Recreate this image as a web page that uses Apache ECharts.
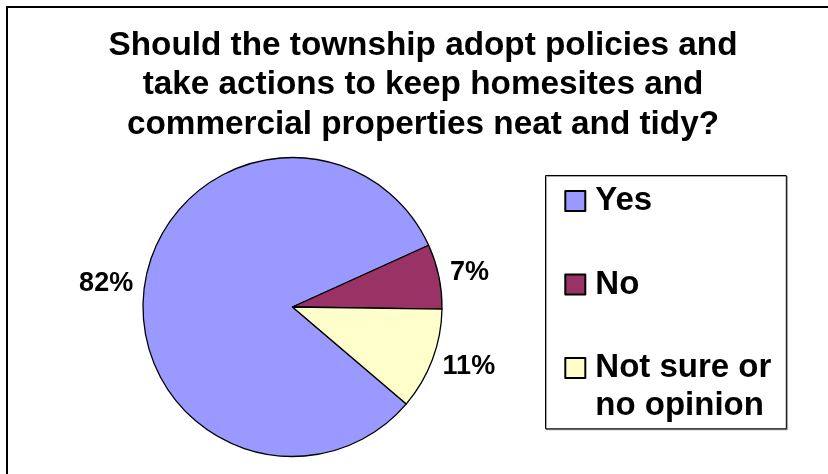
<!DOCTYPE html>
<html>
<head>
<meta charset="utf-8">
<style>
  html, body { margin: 0; padding: 0; background: #fff; }
  #chart { width: 828px; height: 474px; }
</style>
<script src="https://cdn.jsdelivr.net/npm/echarts@6/dist/echarts.min.js"></script>
</head>
<body>
<div id="chart"></div>
<script>
// Survey question and answers
const titleText = 'Should the township adopt policies and\ntake actions to keep homesites and\ncommercial properties neat and tidy?';
const categories = ['Yes', 'No', 'Not sure or\nno opinion'];
const values = [82, 7, 11];
const colors = ['#9999FF', '#993366', '#FFFFCC'];

const FONT = '"Liberation Sans", Arial, Helvetica, sans-serif';

const chart = echarts.init(document.getElementById('chart'), null, { renderer: 'canvas' });

// Every legend label is laid out as a three-line block whose middle line
// carries the first line of the name, so the first line always sits level
// with its swatch and a wrapped name continues below it.
function legendLabel(name) {
  return name.indexOf('\n') >= 0 ? '\n' + name : '\n' + name + '\n';
}

chart.setOption({
  animation: false,
  backgroundColor: '#ffffff',
  // outer chart frame
  graphic: [{
    type: 'rect',
    silent: true,
    z: -10,
    shape: { x: 7, y: 7, width: 900, height: 600 },
    style: { fill: 'none', stroke: '#000', lineWidth: 2 }
  }],
  title: {
    text: titleText,
    left: 423,
    top: 26,
    textAlign: 'center',
    padding: 0,
    textStyle: {
      fontFamily: FONT,
      fontSize: 33.3,
      fontWeight: 'bold',
      color: '#000',
      lineHeight: 39.5
    }
  },
  legend: {
    orient: 'vertical',
    left: 545.5,
    top: 175.5,
    height: 420,
    // the blank lines above each label reach past the box top; the negative
    // top padding keeps the frame snug around the visible entries
    padding: [-31.5, 10, 3.8, 18.8],
    itemWidth: 20,
    itemHeight: 20,
    itemGap: -30.5,
    icon: 'rect',
    selectedMode: false,
    backgroundColor: '#fff',
    borderColor: '#000',
    borderWidth: 1,
    shadowColor: 'rgba(0,0,0,0.35)',
    shadowOffsetX: 1,
    shadowOffsetY: 1,
    shadowBlur: 0,
    formatter: legendLabel,
    textStyle: {
      fontFamily: FONT,
      fontSize: 33,
      fontWeight: 'bold',
      color: '#000',
      lineHeight: 38,
      width: 181,
      padding: [0, 0, 0, 5]
    },
    data: categories
  },
  series: [{
    type: 'pie',
    center: [292.5, 307],
    radius: 149.5,
    startAngle: -40.4,
    clockwise: true,
    avoidLabelOverlap: false,
    percentPrecision: 0,
    silent: true,
    emphasis: { disabled: true },
    itemStyle: { borderColor: '#000', borderWidth: 1.3 },
    label: {
      show: true,
      position: 'outside',
      formatter: '{d}%',
      fontFamily: FONT,
      fontSize: 27,
      fontWeight: 'bold',
      color: '#000',
      distanceToLabelLine: -9.5
    },
    labelLine: { show: false, length: 21, length2: 0 },
    data: categories.map((name, i) => ({
      name: name,
      value: values[i],
      itemStyle: { color: colors[i] }
    }))
  }]
});
</script>
</body>
</html>
